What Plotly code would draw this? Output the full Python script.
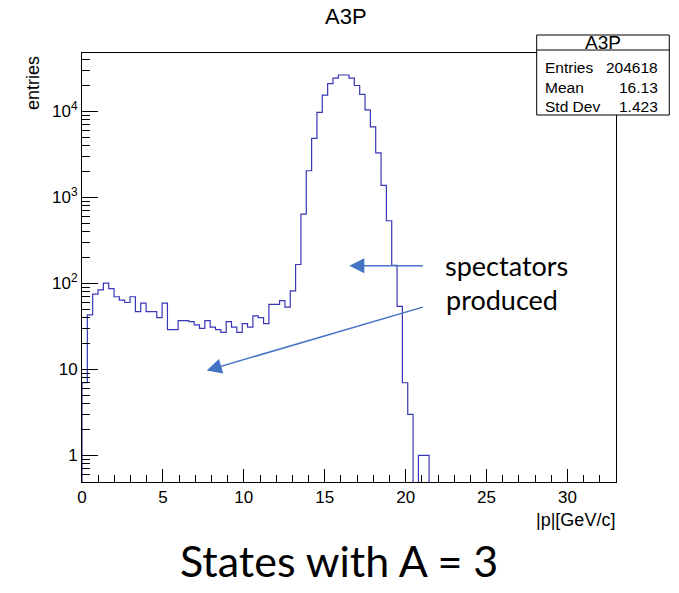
import plotly.graph_objects as go

# ---------------- data ----------------
hist_name = "A3P"
x_title = "|p|[GeV/c]"
y_title = "entries"
bin_width = 0.33          # GeV/c per bin (100 bins over 0..33)
x_low = 0.0
# bin contents, starting at bin 0 ([0, 0.33]); bins after the last one are empty
counts = [7, 43, 75, 84, 101, 87, 70, 64, 60, 70,
          47, 59, 47, 47, 40, 59, 29, 29, 37, 37,
          36, 33, 30, 37, 31, 29, 27, 36, 31, 27,
          34, 31, 42, 40, 34, 57, 57, 63, 53, 82,
          166, 640, 2040, 4850, 9730, 15500, 21000, 24400, 26500, 26500,
          24400, 20000, 15800, 10400, 6600, 3300, 1380, 535, 162, 54,
          7, 3, 0, 1, 1]
stats_labels = ["Entries", "Mean", "Std Dev"]
stats_values = ["204618", "16.13", "1.423"]
x_range = [0, 33]
y_log_range = [-0.309, 4.679]
y_tick_vals = [1, 10, 100, 1000, 10000]
y_tick_text = ["1", "10", "10<sup>2</sup>", "10<sup>3</sup>", "10<sup>4</sup>"]
note_lines = ["spectators", "produced"]
caption = "States with A = 3"

# ---------------- figure ----------------
W, H = 679, 593
L, R, T, B = 82, 63, 53, 111
PW, PH = W - L - R, H - T - B

def px(xp):
    return (xp - L) / PW

def py(yp):
    return (H - B - yp) / PH

floor = 1e-3  # empty bins are drawn down below the axis
edges = [x_low + i * bin_width for i in range(len(counts) + 1)]
xs = [edges[0]] + edges
ys = [floor] + [c if c > 0 else floor for c in counts] + [floor]

line_col = "#3737b8"
fig = go.Figure()
fig.add_trace(go.Scatter(x=xs, y=ys, mode="lines", line=dict(color=line_col, width=1.2, shape="hv"),
                         hoverinfo="skip"))

root_font = "Liberation Sans, Arial, sans-serif"
minor_y = []
for d in [0.1, 1, 10, 100, 1000, 10000]:
    for m in range(2, 10):
        minor_y.append(m * d)

fig.update_layout(
    width=W, height=H,
    margin=dict(l=L, r=R, t=T, b=B, autoexpand=False),
    plot_bgcolor="white", paper_bgcolor="white",
    showlegend=False,
    font=dict(family=root_font, color="black"),
    xaxis=dict(range=x_range, showgrid=False, zeroline=False, showline=True, linecolor="black",
               linewidth=1, mirror=True, ticks="inside", ticklen=13, tickwidth=1, tickcolor="black",
               tick0=0, dtick=5, tickfont=dict(size=17, family=root_font, color="black"),
               minor=dict(dtick=1, tick0=0, ticks="inside", ticklen=7, tickcolor="black", showgrid=False)),
    yaxis=dict(type="log", range=y_log_range, showgrid=False, zeroline=False, showline=True,
               linecolor="black", linewidth=1, mirror=True, ticks="inside", ticklen=16, tickwidth=1,
               tickcolor="black", tickmode="array", tickvals=y_tick_vals, ticktext=y_tick_text,
               tickfont=dict(size=17, family=root_font, color="black"),
               minor=dict(tickmode="array", tickvals=minor_y, ticks="inside", ticklen=8,
                          tickcolor="black", showgrid=False)),
)

ann = []
# title
ann.append(dict(text=hist_name, x=px(346), y=py(17), xref="paper", yref="paper", showarrow=False,
                font=dict(size=22, family=root_font, color="black"), xanchor="center", yanchor="middle"))
# axis titles
ann.append(dict(text=x_title, x=px(617), y=py(520), xref="paper", yref="paper", showarrow=False,
                font=dict(size=18, family=root_font, color="black"), xanchor="right", yanchor="middle"))
ann.append(dict(text=y_title, x=px(33), y=py(54), xref="paper", yref="paper", showarrow=False,
                textangle=-90, font=dict(size=18, family=root_font, color="black"),
                xanchor="center", yanchor="top"))

# stats box
bx0, bx1, by0, by1, bdiv = 536.7, 669.3, 35, 115, 50
shapes = [
    dict(type="rect", xref="paper", yref="paper", x0=px(bx0), x1=px(bx1), y0=py(by1), y1=py(by0),
         line=dict(color="black", width=1), fillcolor="white", layer="above"),
    dict(type="line", xref="paper", yref="paper", x0=px(bx0), x1=px(bx1), y0=py(bdiv), y1=py(bdiv),
         line=dict(color="black", width=1), layer="above"),
]
ann.append(dict(text=hist_name, x=px((bx0 + bx1) / 2), y=py(42.5), xref="paper", yref="paper",
                showarrow=False, font=dict(size=19, family=root_font, color="black"),
                xanchor="center", yanchor="middle"))
row_y = [67.5, 87, 107]
for lab, val, ry in zip(stats_labels, stats_values, row_y):
    ann.append(dict(text=lab, x=px(542.5), y=py(ry), xref="paper", yref="paper", showarrow=False,
                    font=dict(size=15.5, family=root_font, color="black"), xanchor="left", yanchor="middle"))
    ann.append(dict(text=val, x=px(660), y=py(ry), xref="paper", yref="paper", showarrow=False,
                    font=dict(size=15.5, family=root_font, color="black"), xanchor="right", yanchor="middle"))

# notes and arrows
note_font = "Lato, Open Sans, sans-serif"
ann.append(dict(text=note_lines[0], x=px(443), y=py(265), xref="paper", yref="paper", showarrow=False,
                font=dict(size=27, family=note_font, color="black"), xanchor="left", yanchor="middle"))
ann.append(dict(text=note_lines[1], x=px(444), y=py(299), xref="paper", yref="paper", showarrow=False,
                font=dict(size=27, family=note_font, color="black"), xanchor="left", yanchor="middle"))
arrow_col = "#4472C4"
for (tx, ty), (sx, sy) in [((349.3, 265.7), (424.3, 265.7)), ((206.7, 370.5), (424.3, 306.7))]:
    ann.append(dict(text="", x=px(tx), y=py(ty), ax=px(sx), ay=py(sy),
                    xref="x domain", yref="y domain", axref="x domain", ayref="y domain",
                    showarrow=True, arrowhead=2, arrowsize=2, arrowwidth=1.5, arrowcolor=arrow_col,
                    standoff=0, startstandoff=0))
# caption
ann.append(dict(text=caption, x=px(339), y=py(560), xref="paper", yref="paper", showarrow=False,
                font=dict(size=43, family=note_font, color="black"), xanchor="center", yanchor="middle"))

fig.update_layout(annotations=ann, shapes=shapes)
fig.write_html("out.html")
